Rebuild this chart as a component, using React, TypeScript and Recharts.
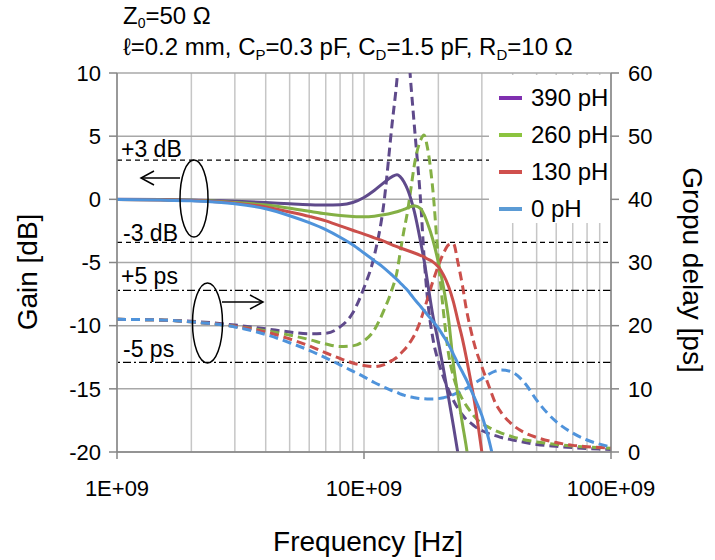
import React from 'react';
import {
  ComposedChart,
  Line,
  XAxis,
  YAxis,
  CartesianGrid,
  ReferenceLine,
} from 'recharts';

const FONT = '"Liberation Sans", Arial, sans-serif';

// frequency points [GHz]
const freqGHz = [1, 1.5, 2, 3, 4, 5, 6, 7, 8, 9, 10, 11, 12, 13, 13.6, 14, 14.5, 15, 15.5, 16, 17, 17.5, 18, 19, 20, 21, 22, 23, 24, 25, 26, 27, 28, 30, 32, 34, 36, 40, 45, 50, 60, 70, 80, 100];

// gain [dB]
const gain0 = [-0.02, -0.06, -0.12, -0.35, -0.75, -1.3, -1.85, -2.4, -3.0, -3.6, -4.25, -4.85, -5.4, -6.0, -6.35, -6.6, -6.9, -7.2, -7.55, -7.9, -8.5, -8.8, -9.1, -9.65, -10.2, -10.85, -11.5, -12.25, -13.0, -13.65, -14.3, -15.0, -15.7, -17.1, -19.0, -21.3, -24, null, null, null, null, null, null, null];
const gain130 = [-0.02, -0.05, -0.1, -0.3, -0.6, -1.0, -1.35, -1.7, -2.1, -2.45, -2.75, -3.05, -3.3, -3.6, -3.75, -3.85, -3.95, -4.05, -4.15, -4.25, -4.45, -4.55, -4.7, -4.95, -5.35, -6.0, -6.9, -8.1, -9.6, -11.0, -12.6, -14.3, -16.0, -20.0, -24, null, null, null, null, null, null, null, null, null];
const gain260 = [-0.02, -0.04, -0.08, -0.25, -0.45, -0.7, -0.95, -1.15, -1.28, -1.35, -1.38, -1.33, -1.22, -1.08, -0.98, -0.9, -0.8, -0.68, -0.57, -0.5, -0.75, -1.2, -1.8, -3.2, -5.0, -7.0, -9.5, -13.0, -15.5, -17.7, -19.7, -22, null, null, null, null, null, null, null, null, null, null, null, null];
const gain390 = [0, -0.02, -0.05, -0.15, -0.25, -0.35, -0.42, -0.45, -0.42, -0.25, 0.15, 0.7, 1.3, 1.8, 1.95, 1.8, 1.4, 0.8, 0.0, -1.0, -3.5, -4.8, -6.3, -9.2, -11.3, -13.5, -15.7, -17.9, -20.1, -22.2, null, null, null, null, null, null, null, null, null, null, null, null, null, null];

// group delay [ps]
const delay0 = [21.0, 20.9, 20.6, 19.8, 18.6, 17.3, 16.1, 14.9, 13.8, 12.8, 11.9, 11.0, 10.3, 9.7, 9.45, 9.2, 9.0, 8.8, 8.7, 8.6, 8.45, 8.42, 8.4, 8.4, 8.45, 8.6, 8.8, 9.1, 9.4, 9.75, 10.1, 10.5, 10.9, 11.6, 12.3, 12.8, 13.0, 12.6, 10.8, 8.2, 4.8, 3.0, 1.9, 0.8];
const delay130 = [21.0, 20.9, 20.6, 19.9, 19.0, 17.9, 16.8, 15.7, 14.8, 14.1, 13.7, 13.5, 13.8, 14.5, 15.0, 15.5, 16.1, 16.8, 17.6, 18.5, 21.0, 22.5, 24.0, 27.0, 29.5, 31.5, 32.8, 33.0, 30.0, 26.5, 22.5, 19.5, 17.0, 13.5, 10.5, 7.8, 6.2, 4.3, 3.0, 2.3, 1.5, 1.05, 0.85, 0.6];
const delay260 = [21.0, 20.9, 20.6, 19.9, 19.2, 18.5, 17.8, 17.1, 16.7, 16.8, 17.6, 19.3, 22.3, 25.8, 28.5, 31.5, 35.0, 38.0, 41.8, 45.5, 49.5, 50.2, 48.5, 41.5, 30.5, 22.0, 15.5, 12.0, 9.8, 8.4, 7.3, 6.4, 5.6, 4.5, 3.9, 3.4, 3.0, 2.4, 1.9, 1.6, 1.2, 0.95, 0.8, 0.6];
const delay390 = [21.0, 20.9, 20.7, 20.1, 19.5, 19.0, 18.7, 18.8, 19.8, 22.0, 26.0, 31.0, 39.0, 52.0, 59.0, 65.0, 68.0, 65.0, 58.0, 51.5, 39.0, 31.0, 25.0, 18.0, 14.3, 11.8, 9.8, 8.2, 6.9, 5.9, 5.1, 4.6, 4.1, 3.4, 2.9, 2.6, 2.3, 1.9, 1.5, 1.2, 0.9, 0.7, 0.55, 0.4];

// every decade line gets a gridline, only decades get a label
const xMajor = [1e9, 1e10, 1e11];
const xTicks = [1e9, 2e9, 3e9, 4e9, 5e9, 6e9, 7e9, 8e9, 9e9, 1e10, 2e10, 3e10, 4e10, 5e10, 6e10, 7e10, 8e10, 9e10, 1e11];
const gainTicks = [-20, -15, -10, -5, 0, 5, 10];
const delayTicks = [0, 10, 20, 30, 40, 50, 60];

const series = [
  { name: '390 pH', gain: 'g390', delay: 'd390', color: '#5F4A8B', legend: '#7F2FAF' },
  { name: '260 pH', gain: 'g260', delay: 'd260', color: '#84B045', legend: '#8CC43F' },
  { name: '130 pH', gain: 'g130', delay: 'd130', color: '#CB4F4B', legend: '#D0504D' },
  { name: '0 pH', gain: 'g0', delay: 'd0', color: '#4F93DB', legend: '#5B9BD5' },
];

const data = freqGHz.map((f, i) => ({
  f: f * 1e9,
  g0: gain0[i],
  g130: gain130[i],
  g260: gain260[i],
  g390: gain390[i],
  d0: delay0[i],
  d130: delay130[i],
  d260: delay260[i],
  d390: delay390[i],
}));

const fmtX = (v: number) => {
  if (v === 1e9) return '1E+09';
  if (v === 1e10) return '10E+09';
  return '100E+09';
};

const tickStyle = { fill: '#000', fontSize: 22, fontFamily: FONT };

// tickSize=0, tickMargin=28 -> axis line sits 28px above y
const XTick = (props: any) => {
  const { x, y, payload } = props;
  if (!xMajor.includes(payload.value)) return null;
  return (
    <g>
      <line x1={x} x2={x} y1={y - 28} y2={y - 21} stroke="#868686" strokeWidth={1.5} />
      <text x={x} y={y} dy="0.71em" textAnchor="middle" fill="#000" fontSize={22} fontFamily={FONT}>
        {fmtX(payload.value)}
      </text>
    </g>
  );
};

export default function App() {
  return (
    <div style={{ position: 'absolute', left: 0, top: 0, width: 715, height: 560, background: '#fff' }}>
      <ComposedChart
        width={715}
        height={560}
        data={data}
        margin={{ top: 73, right: 44, bottom: 68, left: 57 }}
      >
        <XAxis
          xAxisId="main"
          dataKey="f"
          type="number"
          scale="log"
          domain={[1e9, 1e11]}
          ticks={xTicks}
          interval={0}
          allowDataOverflow
          height={40}
          tick={<XTick />}
          tickLine={false}
          tickSize={0}
          tickMargin={28}
          stroke="#868686"
          strokeWidth={1.5}
        />
        <YAxis
          yAxisId="gain"
          domain={[-20, 10]}
          ticks={gainTicks}
          interval={0}
          allowDataOverflow
          width={60}
          tick={tickStyle}
          tickSize={8}
          tickMargin={8}
          stroke="#868686"
          strokeWidth={1.5}
        />
        <YAxis
          yAxisId="delay"
          orientation="right"
          domain={[0, 60]}
          ticks={delayTicks}
          interval={0}
          allowDataOverflow
          width={60}
          tick={{ ...tickStyle, textAnchor: 'start' }}
          tickSize={8}
          tickMargin={9}
          stroke="#868686"
          strokeWidth={1.5}
        />
        <CartesianGrid
          xAxisId="main"
          yAxisId="gain"
          horizontal={false}
          stroke="#C6C6C6"
          strokeWidth={1.5}
        />
        <CartesianGrid
          xAxisId="main"
          yAxisId="gain"
          vertical={false}
          stroke="#A8A8A8"
          strokeWidth={1.5}
        />
        <ReferenceLine xAxisId="main" yAxisId="gain" y={3.1} stroke="#000" strokeWidth={1.3} strokeDasharray="5 4" />
        <ReferenceLine xAxisId="main" yAxisId="gain" y={-3.4} stroke="#000" strokeWidth={1.3} strokeDasharray="5 4" />
        <ReferenceLine xAxisId="main" yAxisId="delay" y={25.6} stroke="#000" strokeWidth={1.3} strokeDasharray="8 3 2 3" />
        <ReferenceLine xAxisId="main" yAxisId="delay" y={14.2} stroke="#000" strokeWidth={1.3} strokeDasharray="8 3 2 3" />
        {series.map((s) => (
          <Line
            key={s.delay}
            xAxisId="main"
            yAxisId="delay"
            type="monotone"
            dataKey={s.delay}
            stroke={s.color}
            strokeWidth={3}
            strokeDasharray="9 5"
            dot={false}
            isAnimationActive={false}
          />
        ))}
        {series.map((s) => (
          <Line
            key={s.gain}
            xAxisId="main"
            yAxisId="gain"
            type="monotone"
            dataKey={s.gain}
            stroke={s.color}
            strokeWidth={3}
            dot={false}
            isAnimationActive={false}
          />
        ))}
      </ComposedChart>

      {/* legend */}
      <div
        style={{
          position: 'absolute',
          left: 489,
          top: 75,
          width: 121,
          height: 148,
          background: '#fff',
          fontFamily: FONT,
          fontSize: 24,
        }}
      >
        {series.map((s, i) => (
          <div key={s.name} style={{ position: 'absolute', left: 0, top: 10 + i * 37, height: 26, display: 'flex', alignItems: 'center' }}>
            <div style={{ width: 23, height: 4, background: s.legend, marginLeft: 10 }} />
            <span style={{ marginLeft: 9, whiteSpace: 'nowrap' }}>{s.name}</span>
          </div>
        ))}
      </div>

      {/* titles and annotations */}
      <svg
        width={715}
        height={560}
        style={{ position: 'absolute', left: 0, top: 0, pointerEvents: 'none' }}
        fontFamily={FONT}
      >
        <text x={123} y={24} fontSize={24}>
          Z<tspan fontSize={14} dy={4}>0</tspan>
          <tspan dy={-4}>=50 Ω</tspan>
        </text>
        <text x={123} y={55} fontSize={24}>
          ℓ=0.2 mm, C<tspan fontSize={15} dy={5}>P</tspan>
          <tspan dy={-5}>=0.3 pF, C</tspan>
          <tspan fontSize={15} dy={5}>D</tspan>
          <tspan dy={-5}>=1.5 pF, R</tspan>
          <tspan fontSize={15} dy={5}>D</tspan>
          <tspan dy={-5}>=10 Ω</tspan>
        </text>

        <text x={121} y={157} fontSize={23}>+3 dB</text>
        <text x={123} y={241} fontSize={23}>-3 dB</text>
        <text x={121} y={284} fontSize={23}>+5 ps</text>
        <text x={123} y={357} fontSize={23}>-5 ps</text>

        <ellipse cx={194} cy={198.5} rx={14} ry={38.5} fill="none" stroke="#000" strokeWidth={1.5} />
        <line x1={180} y1={178} x2={141} y2={178} stroke="#000" strokeWidth={1.5} />
        <polyline points="154,171 141,178 154,185" fill="none" stroke="#000" strokeWidth={1.5} />

        <ellipse cx={207.5} cy={323} rx={15} ry={40} fill="none" stroke="#000" strokeWidth={1.5} />
        <line x1={222} y1={302} x2={263} y2={302} stroke="#000" strokeWidth={1.5} />
        <polyline points="250,295 263,302 250,309" fill="none" stroke="#000" strokeWidth={1.5} />

        <text x={30} y={272} fontSize={28} textAnchor="middle" dominantBaseline="middle" transform="rotate(-90 30 272)">
          Gain [dB]
        </text>
        <text x={690} y={270} fontSize={28} textAnchor="middle" dominantBaseline="middle" transform="rotate(90 690 270)">
          Gropu delay [ps]
        </text>
        <text x={368} y={551} fontSize={28} textAnchor="middle">
          Frequency [Hz]
        </text>
      </svg>
    </div>
  );
}
